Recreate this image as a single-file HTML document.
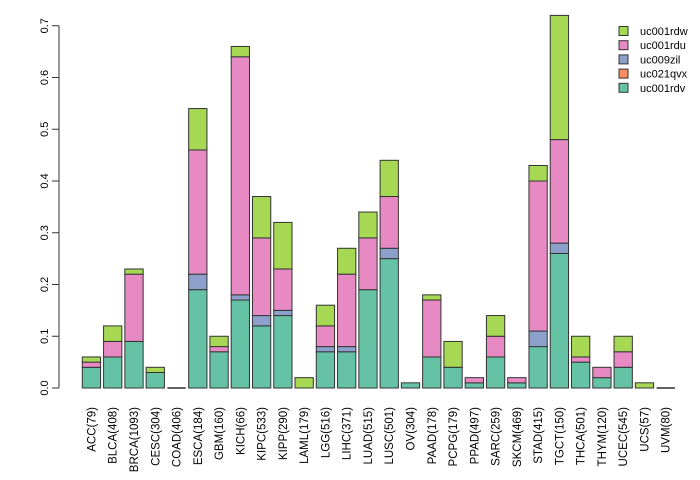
<!DOCTYPE html>
<html><head><meta charset="utf-8"><style>
body{margin:0;background:#fff}
svg{display:block;font-family:"Liberation Sans",Arial,sans-serif}
</style></head><body>
<svg id="chart" width="700" height="480"></svg>
<script>
const categories=["ACC(79)","BLCA(408)","BRCA(1093)","CESC(304)","COAD(406)","ESCA(184)","GBM(160)","KICH(66)","KIPC(533)","KIPP(290)","LAML(179)","LGG(516)","LIHC(371)","LUAD(515)","LUSC(501)","OV(304)","PAAD(178)","PCPG(179)","PPAD(497)","SARC(259)","SKCM(469)","STAD(415)","TGCT(150)","THCA(501)","THYM(120)","UCEC(545)","UCS(57)","UVM(80)"];
const uc001rdv=[0.04,0.06,0.09,0.03,0,0.19,0.07,0.17,0.12,0.14,0,0.07,0.07,0.19,0.25,0.01,0.06,0.04,0.01,0.06,0.01,0.08,0.26,0.05,0.02,0.04,0,0];
const uc021qvx=[0,0,0,0,0,0,0,0,0,0,0,0,0,0,0,0,0,0,0,0,0,0,0,0,0,0,0,0];
const uc009zil=[0,0,0,0,0,0.03,0,0.01,0.02,0.01,0,0.01,0.01,0,0.02,0,0,0,0,0,0,0.03,0.02,0,0,0,0,0];
const uc001rdu=[0.01,0.03,0.13,0,0,0.24,0.01,0.46,0.15,0.08,0,0.04,0.14,0.10,0.10,0,0.11,0,0.01,0.04,0.01,0.29,0.20,0.01,0.02,0.03,0,0];
const uc001rdw=[0.01,0.03,0.01,0.01,0,0.08,0.02,0.02,0.08,0.09,0.02,0.04,0.05,0.05,0.07,0,0.01,0.05,0,0.04,0,0.03,0.24,0.04,0,0.03,0.01,0];
const yTicks=[0,0.1,0.2,0.3,0.4,0.5,0.6,0.7];
const seriesNames=["uc001rdv","uc021qvx","uc009zil","uc001rdu","uc001rdw"];
const seriesData=[uc001rdv,uc021qvx,uc009zil,uc001rdu,uc001rdw];
const colors=["#66c2a5","#fc8d62","#8da0cb","#e78ac3","#a6d854"];

const NS="http://www.w3.org/2000/svg";
const svg=document.getElementById("chart");
function mk(t,a,p){const e=document.createElementNS(NS,t);for(const k in a)e.setAttribute(k,a[k]);(p||svg).appendChild(e);return e;}
const y0=388,yk=517.5;
const y=v=>y0-v*yk;
const x=i=>82.3+i*21.27;
const bw=18.3;

const yAxis=mk("g",{});


mk("line",{x1:59,x2:59,y1:y(0),y2:y(0.7),stroke:"#333"},yAxis);
yTicks.forEach(t=>{
  mk("line",{x1:52,x2:59,y1:y(t),y2:y(t),stroke:"#333"},yAxis);
  const tx=mk("text",{x:0,y:0,transform:`translate(48,${y(t)}) rotate(-90)`,"text-anchor":"middle","font-size":"11",fill:"#000"},yAxis);
  
  
  tx.textContent=t.toFixed(1);
});

categories.forEach((c,i)=>{
  let cum=0;
  seriesData.forEach((s,k)=>{
    const v=s[i];
    const r=mk("rect",{x:x(i),y:y(cum+v),width:bw,height:v*yk,fill:colors[k],stroke:"#333","stroke-width":"1"});
    
    
    cum+=v;
  });
  if(cum===0){
    const z=mk("line",{x1:x(i),x2:x(i)+bw,y1:y(0),y2:y(0),stroke:"#000","stroke-width":"1.2"});
    
    
  }
  const tx=mk("text",{x:0,y:0,transform:`translate(${x(i)+bw/2+4},407) rotate(-90)`,"text-anchor":"end","font-size":"11.5",fill:"#000"});
  
  
  tx.textContent=c;
});

const legend=mk("g",{});


const legOrder=[4,3,2,1,0];
legOrder.forEach((k,j)=>{
  const cy=31+j*14.2;
  const r=mk("rect",{x:619,y:cy-4.5,width:9,height:9,fill:colors[k],stroke:"#333"},legend);
  
  
  const t=mk("text",{x:640,y:cy+4,"font-size":"11",fill:"#000"},legend);
  
  
  t.textContent=seriesNames[k];
});
</script>
</body></html>
